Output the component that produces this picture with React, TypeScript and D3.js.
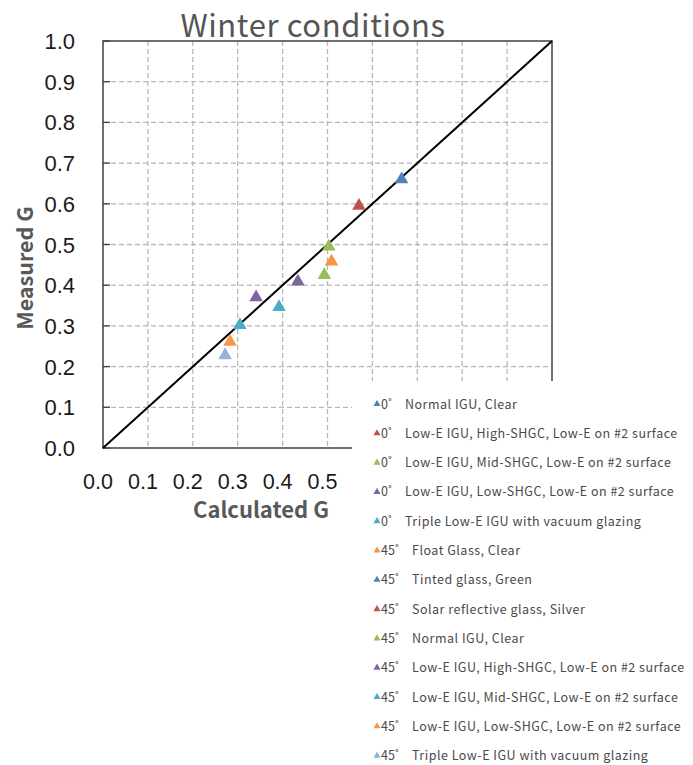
import React from "react";
import * as d3 from "d3";

const seriesNames = [
  "Normal IGU, Clear",
  "Low-E IGU, High-SHGC, Low-E on #2 surface",
  "Low-E IGU, Mid-SHGC, Low-E on #2 surface",
  "Low-E IGU, Low-SHGC, Low-E on #2 surface",
  "Triple Low-E IGU with vacuum glazing",
  "Float Glass, Clear",
  "Tinted glass, Green",
  "Solar reflective glass, Silver",
  "Normal IGU, Clear",
  "Low-E IGU, High-SHGC, Low-E on #2 surface",
  "Low-E IGU, Mid-SHGC, Low-E on #2 surface",
  "Low-E IGU, Low-SHGC, Low-E on #2 surface",
  "Triple Low-E IGU with vacuum glazing",
];
const seriesAngles = ["0˚", "0˚", "0˚", "0˚", "0˚", "45˚", "45˚", "45˚", "45˚", "45˚", "45˚", "45˚", "45˚"];
const seriesColors = [
  "#4F81BD", "#C0504D", "#9BBB59", "#8064A2", "#4BACC6", "#F79646",
  "#4F81BD", "#C0504D", "#9BBB59", "#8064A2", "#4BACC6", "#F79646", "#95B3D7",
];
const calculatedG: (number | null)[] = [0.665, 0.57, 0.503, 0.434, 0.392, 0.509, null, null, 0.493, 0.341, 0.305, 0.283, 0.272];
const measuredG: (number | null)[] = [0.66, 0.595, 0.495, 0.409, 0.346, 0.458, null, null, 0.425, 0.37, 0.302, 0.261, 0.228];
const ticks = [0, 0.1, 0.2, 0.3, 0.4, 0.5, 0.6, 0.7, 0.8, 0.9, 1.0];
// x tick labels beyond 0.5 are hidden behind the legend in the reference
const visibleXTicks = [0, 0.1, 0.2, 0.3, 0.4, 0.5];

const W = 693;
const H = 765;
const plot = { left: 103, right: 552, top: 41, bottom: 448 };

export default function App() {
  const x = d3.scaleLinear().domain([0, 1]).range([plot.left, plot.right]);
  const y = d3.scaleLinear().domain([0, 1]).range([plot.bottom, plot.top]);
  const tri = d3.symbol().type(d3.symbolTriangle).size(80);
  const triSmall = d3.symbol().type(d3.symbolTriangle).size(22);
  const fmt = d3.format(".1f");

  const legend = { x: 352, y: 381, first: 404, step: 29.3 };
  const legendFont = "Noto Sans CJK JP, Noto Sans, sans-serif";

  return (
    <svg width={W} height={H} style={{ position: "absolute", left: 0, top: 0, background: "#fff" }}>
      <rect x={0} y={0} width={W} height={H} fill="#fff" />
      {/* grid */}
      {ticks.slice(1, -1).map((t) => (
        <g key={"g" + t}>
          <line x1={x(t)} x2={x(t)} y1={plot.top} y2={plot.bottom} stroke="#b8b8b8" strokeWidth={1.3} strokeDasharray="5,3" />
          <line x1={plot.left} x2={plot.right} y1={y(t)} y2={y(t)} stroke="#b8b8b8" strokeWidth={1.3} strokeDasharray="5,3" />
        </g>
      ))}
      {/* frame */}
      <rect x={plot.left} y={plot.top} width={plot.right - plot.left} height={plot.bottom - plot.top} fill="none" stroke="#404040" strokeWidth={1.5} />
      {/* y ticks */}
      {ticks.map((t) => (
        <line key={"yt" + t} x1={plot.left} x2={plot.left + 7} y1={y(t)} y2={y(t)} stroke="#404040" strokeWidth={1.3} />
      ))}
      {/* diagonal */}
      <line x1={x(0)} y1={y(0)} x2={x(1)} y2={y(1)} stroke="#000" strokeWidth={2} />
      {/* points */}
      {calculatedG.map((cx, i) => {
        const my = measuredG[i];
        if (cx == null || my == null) return null;
        return <path key={"p" + i} d={tri()!} transform={`translate(${x(cx)},${y(my)})`} fill={seriesColors[i]} />;
      })}
      {/* y tick labels */}
      {ticks.map((t) => (
        <text key={"yl" + t} x={75} y={y(t) + 8} textAnchor="end" fontFamily="Liberation Sans, Arial, sans-serif" fontSize={22} fill="#1a1a1a">
          {fmt(t)}
        </text>
      ))}
      {/* x tick labels */}
      {visibleXTicks.map((t) => (
        <text key={"xl" + t} x={x(t) - 5} y={489} textAnchor="middle" fontFamily="Liberation Sans, Arial, sans-serif" fontSize={21.5} fill="#1a1a1a">
          {fmt(t)}
        </text>
      ))}
      {/* titles */}
      <text x={313} y={37} textAnchor="middle" fontFamily="Noto Sans CJK JP, Noto Sans, sans-serif" fontSize={31} letterSpacing={0.6} fill="#555">
        Winter conditions
      </text>
      <text x={261} y={518} textAnchor="middle" fontFamily="Noto Sans CJK JP, Noto Sans, sans-serif" fontWeight="bold" fontSize={22} fill="#595959">
        Calculated G
      </text>
      <text transform={`translate(33,268) rotate(-90)`} textAnchor="middle" fontFamily="Noto Sans CJK JP, Noto Sans, sans-serif" fontWeight="bold" fontSize={21.5} fill="#595959">
        Measured G
      </text>
      {/* legend */}
      <rect x={legend.x} y={legend.y} width={W - legend.x} height={H - legend.y} fill="#fff" />
      {seriesNames.map((name, i) => {
        const ly = legend.first + i * legend.step;
        return (
          <g key={"l" + i}>
            <path d={triSmall()!} transform={`translate(377,${ly})`} fill={seriesColors[i]} />
            <text x={381} y={ly + 4.5} fontFamily={legendFont} fontSize={12.5} fill="#4a4a4a">
              {seriesAngles[i]}
            </text>
            <text x={seriesAngles[i].length > 2 ? 412 : 405} y={ly + 4.5} fontFamily={legendFont} fontSize={12.5} letterSpacing={0.5} fill="#4a4a4a">
              {name}
            </text>
          </g>
        );
      })}
    </svg>
  );
}
